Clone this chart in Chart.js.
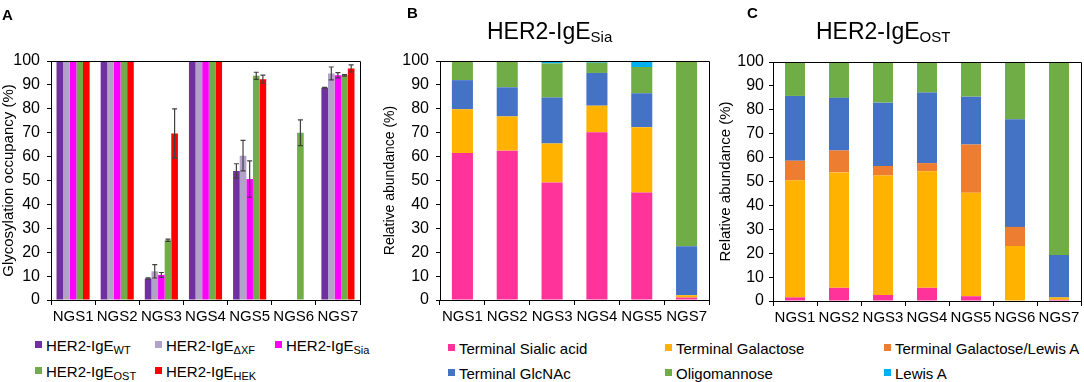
<!DOCTYPE html>
<html>
<head>
<meta charset="utf-8">
<script src="https://cdn.jsdelivr.net/npm/chart.js@4.4.0/dist/chart.umd.min.js"></script>
<style>
  body { margin: 0; background: #fff; }
  #wrap { position: relative; width: 1084px; height: 382px; overflow: hidden; font-family: 'Liberation Sans', Arial, sans-serif; color: #000; }
  canvas { position: absolute; top: 0; }
  .lbl { position: absolute; white-space: nowrap; line-height: 1; }
  .panel { font-weight: bold; font-size: 15px; }
  .ttl { font-size: 23px; }
  .ttl span { font-size: 15px; position: relative; top: 3px; }
  .leg { font-size: 15px; }
  .leg i { position: absolute; left: -11px; top: 3px; width: 7px; height: 7px; }
  .leg span { font-size: 11px; position: relative; top: 3px; }
</style>
</head>
<body>
<div id="wrap">
  <canvas id="cA" width="380" height="330" style="left:0"></canvas>
  <canvas id="cB" width="336" height="330" style="left:380px"></canvas>
  <canvas id="cC" width="368" height="331" style="left:716px"></canvas>
  <div class="lbl panel" style="left:2px;top:7px">A</div>
  <div class="lbl panel" style="left:407px;top:5px">B</div>
  <div class="lbl panel" style="left:747px;top:5px">C</div>
  <div class="lbl ttl" style="left:487px;top:20px">HER2-IgE<span>Sia</span></div>
  <div class="lbl ttl" style="left:816px;top:20px">HER2-IgE<span>OST</span></div>
</div>
<script>
// panel A: glycosylation occupancy
const sitesA = ['NGS1', 'NGS2', 'NGS3', 'NGS4', 'NGS5', 'NGS6', 'NGS7'];
const variantsA = ['WT', 'ΔXF', 'Sia', 'OST', 'HEK'];
const wtVals  = [100, 100, 9,    100, 54,   0,  88.8];
const wtErr   = [0,   0,   0.3,  0,   3,    0,  0.2];
const dxfVals = [100, 100, 12,   100, 60.4, 0,  94.8];
const dxfErr  = [0,   0,   2.8,  0,   6.4,  0,  2.7];
const siaVals = [100, 100, 10.5, 100, 50.6, 0,  94];
const siaErr  = [0,   0,   1,    0,   7.6,  0,  1.1];
const ostVals = [100, 100, 25,   100, 93.8, 70, 94];
const ostErr  = [0,   0,   0.5,  0,   1.5,  5.4, 0.3];
const hekVals = [100, 100, 69.7, 100, 92.4, 0,  96.9];
const hekErr  = [0,   0,   10.3, 0,   1.7,  0,  1.5];
const colorsA = ['#7030A0', '#B3A2C7', '#FF00FF', '#70AD47', '#FF0000'];

// panel B: HER2-IgE Sia glycan classes
const sitesB = ['NGS1', 'NGS2', 'NGS3', 'NGS4', 'NGS5', 'NGS7'];
const sialicB = [61.5, 62.5, 49.2, 70.2, 45,   1];
const galB    = [18.3, 14.3, 16.3, 11.1, 27.3, 1];
const galLeaB = [0,    0,    0,    0,    0,    0];
const glcnacB = [12.2, 12.2, 19.2, 13.7, 14.2, 20.5];
const oligoB  = [8,    11,   14.3, 4.3,  11,   77.5];
const leaB    = [0,    0,    1,    0.7,  2.5,  0];

// panel C: HER2-IgE OST glycan classes
const sitesC = ['NGS1', 'NGS2', 'NGS3', 'NGS4', 'NGS5', 'NGS6', 'NGS7'];
const sialicC = [1.5,  5.5,  2.5,  5.5,  2,    0,  0.5];
const galC    = [49,   48.3, 50,   48.8, 43.3, 23, 1];
const galLeaC = [8.2,  9.2,  4,    3.4,  20.2, 8,  0];
const glcnacC = [27.1, 22,   26.5, 29.5, 20,   45, 17.7];
const oligoC  = [14.2, 15,   17,   12.8, 14.5, 24, 80.8];
const leaC    = [0,    0,    0,    0,    0,    0,  0];

const glycanNames = ['Terminal Sialic acid', 'Terminal Galactose', 'Terminal Galactose/Lewis A',
                     'Terminal GlcNAc', 'Oligomannose', 'Lewis A'];
const glycanColors = ['#FF3399', '#FFB300', '#ED7D31', '#4472C4', '#70AD47', '#00B0F0'];

Chart.defaults.font.family = "'Liberation Sans', Arial, sans-serif";
Chart.defaults.font.size = 14;
Chart.defaults.color = '#000';

const frame = {
  id: 'frame',
  afterDraw(chart) {
    const a = chart.chartArea, ctx = chart.ctx;
    ctx.save();
    ctx.strokeStyle = '#000';
    ctx.lineWidth = 1;
    ctx.beginPath();
    ctx.moveTo(a.left, a.top + 0.5);
    ctx.lineTo(a.right + 0.5, a.top + 0.5);
    ctx.lineTo(a.right + 0.5, a.bottom);
    ctx.stroke();
    ctx.restore();
  }
};

const errorBars = {
  id: 'errorBars',
  afterDatasetsDraw(chart) {
    const ctx = chart.ctx, y = chart.scales.y;
    ctx.save();
    ctx.strokeStyle = '#404040';
    ctx.lineWidth = 1.2;
    chart.data.datasets.forEach((ds, i) => {
      chart.getDatasetMeta(i).data.forEach((bar, j) => {
        const e = ds.errors[j];
        if (!e) return;
        const hi = y.getPixelForValue(ds.data[j] + e);
        const lo = y.getPixelForValue(ds.data[j] - e);
        ctx.beginPath();
        ctx.moveTo(bar.x, hi); ctx.lineTo(bar.x, lo);
        ctx.moveTo(bar.x - 2.5, hi); ctx.lineTo(bar.x + 2.5, hi);
        ctx.moveTo(bar.x - 2.5, lo); ctx.lineTo(bar.x + 2.5, lo);
        ctx.stroke();
      });
    });
    ctx.restore();
  }
};

function axes(yWidth, titleText, titleSize, titlePad, tickPad) {
  return {
    x: {
      stacked: true,
      grid: { drawOnChartArea: false, color: '#000', tickLength: 5, offset: true },
      border: { color: '#000' },
      ticks: { padding: 3, maxRotation: 0, autoSkip: false, font: { size: 15 } },
      afterFit(s) { s.height = 30; }
    },
    y: {
      stacked: true,
      min: 0, max: 100,
      grid: { drawOnChartArea: false, color: '#000', tickLength: 4 },
      border: { color: '#000' },
      ticks: { stepSize: 10, padding: tickPad, font: { size: 16 } },
      title: { display: true, text: titleText, font: { size: titleSize }, padding: { top: titlePad, bottom: 0 } },
      afterFit(s) { s.width = yWidth; }
    }
  };
}

const seriesA = [wtVals, dxfVals, siaVals, ostVals, hekVals];
const errsA = [wtErr, dxfErr, siaErr, ostErr, hekErr];
const scalesA = axes(51, 'Glycosylation occupancy (%)', 15, 0, 7);
scalesA.x.stacked = false;
scalesA.y.stacked = false;

new Chart(document.getElementById('cA'), {
  type: 'bar',
  data: {
    labels: sitesA,
    datasets: variantsA.map((v, i) => ({
      label: 'HER2-IgE ' + v,
      data: seriesA[i],
      errors: errsA[i],
      backgroundColor: colorsA[i],
      borderWidth: 0,
      categoryPercentage: 0.75,
      barPercentage: 1
    }))
  },
  options: {
    responsive: false, animation: false,
    layout: { padding: { top: 61, right: 20, left: 0, bottom: 0 } },
    plugins: { legend: { display: false }, tooltip: { enabled: false } },
    scales: scalesA
  },
  plugins: [frame, errorBars]
});

function glycanChart(id, labels, series, catPct, pad, yWidth, titleSize, titlePad, tickPad) {
  new Chart(document.getElementById(id), {
    type: 'bar',
    data: {
      labels: labels,
      datasets: glycanNames.map((n, i) => ({
        label: n,
        data: series[i],
        backgroundColor: glycanColors[i],
        borderWidth: 0,
        categoryPercentage: catPct,
        barPercentage: 1
      }))
    },
    options: {
      responsive: false, animation: false,
      layout: { padding: pad },
      plugins: { legend: { display: false }, tooltip: { enabled: false } },
      scales: axes(yWidth, 'Relative abundance (%)', titleSize, titlePad, tickPad)
    },
    plugins: [frame]
  });
}

glycanChart('cB', sitesB, [sialicB, galB, galLeaB, glcnacB, oligoB, leaB], 0.47,
  { top: 61, right: 7, left: 0, bottom: 0 }, 60, 14, 2, 7);
glycanChart('cC', sitesC, [sialicC, galC, galLeaC, glcnacC, oligoC, leaC], 0.455,
  { top: 62, right: 3, left: 0, bottom: 0 }, 57, 15, 1, 5);

// html legends (text with subscripts)
const wrap = document.getElementById('wrap');
function legendItem(x, y, color, html) {
  const d = document.createElement('div');
  d.className = 'lbl leg';
  d.style.left = x + 'px';
  d.style.top = y + 'px';
  d.innerHTML = '<i style="background:' + color + '"></i>' + html;
  wrap.appendChild(d);
}
const colsA = [46, 166, 286], rowsA = [338, 364];
variantsA.forEach((v, i) => {
  legendItem(colsA[i % 3], rowsA[Math.floor(i / 3)], colorsA[i], 'HER2-IgE<span>' + v + '</span>');
});
const colsG = [459, 676, 895], rowsG = [341, 366];
glycanNames.forEach((n, i) => {
  legendItem(colsG[i % 3], rowsG[Math.floor(i / 3)], glycanColors[i], n);
});
</script>
</body>
</html>
